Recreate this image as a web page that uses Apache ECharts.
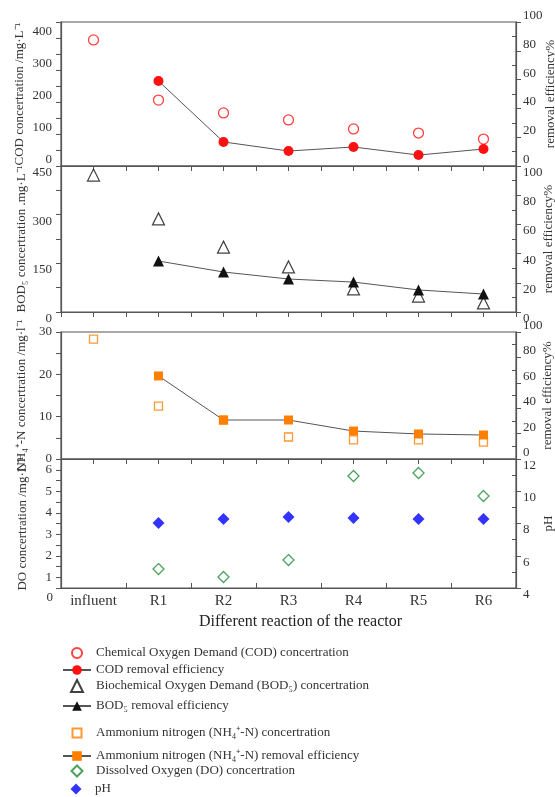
<!DOCTYPE html>
<html><head><meta charset="utf-8">
<script src="https://cdn.jsdelivr.net/npm/echarts@6/dist/echarts.min.js"></script>
<style>html,body{margin:0;padding:0;background:#fff}#c{width:555px;height:797px}</style>
</head><body><div id="c"></div>
<script>
// ---- data ----
const categories = ['influent', 'R1', 'R2', 'R3', 'R4', 'R5', 'R6'];
const codConcentration = [394, 206, 166, 144, 116, 103, 84];
const codRemoval = [null, 59, 16.7, 10.4, 13.2, 7.6, 11.8];
const bodConcentration = [422, 287, 200, 139, 71, 49, 28];
const bodRemoval = [null, 34.9, 27.4, 22.6, 20.5, 15.1, 12.3];
const nh4Concentration = [28.3, 12.5, 9.2, 5.2, 4.5, 4.5, 4.0];
const nh4Removal = [null, 65.4, 30.7, 30.7, 22, 19.7, 18.9];
const doConcentration = [null, 1.38, 1.01, 1.8, 5.71, 5.85, 4.78];
const phValues = [null, 8.03, 8.28, 8.4, 8.34, 8.28, 8.28];

// tick labels
const codTickLabels = [0, 100, 200, 300, 400];
const bodTickLabels = [0, 150, 300, 450];
const nh4TickLabels = [0, 10, 20, 30];
const doTickLabels = [1, 2, 3, 4, 5, 6];
const removalTickLabels = [0, 20, 40, 60, 80, 100];
const phTickLabels = [4, 6, 8, 10, 12];

const names = {
  cod: 'Chemical Oxygen Demand (COD) concertration',
  codR: 'COD removal efficiency',
  bod: 'Biochemical Oxygen Demand (BOD\u2085) concertration',
  bodR: 'BOD\u2085 removal efficiency',
  nh4: 'Ammonium nitrogen (NH\u2084\u207A-N) concertration',
  nh4R: 'Ammonium nitrogen (NH\u2084\u207A-N) removal efficiency',
  dox: 'Dissolved Oxygen (DO) concertration',
  ph: 'pH'
};

// ---- style ----
const FONT = "'Liberation Serif','Times New Roman',serif";
const AX = '#555';
const TXT = '#333';

const gridDefs = [
  { top: 22, height: 144 },
  { top: 166, height: 146 },
  { top: 332, height: 127 },
  { top: 459, height: 129 }
];
const grids = gridDefs.map(g => Object.assign({
  left: 61, right: 39, show: true, borderColor: AX, borderWidth: 1.2,
  backgroundColor: 'transparent', containLabel: false, outerBoundsMode: 'none'
}, g));

const xAxes = [];
for (let g = 0; g < 4; g++) {
  const last = g === 3;
  xAxes.push({
    type: 'category', gridIndex: g, position: 'bottom', data: categories, boundaryGap: true,
    axisLine: { lineStyle: { color: AX, width: 1.2 } },
    axisTick: { show: !last, alignWithLabel: true, length: 5, interval: 0, lineStyle: { color: AX } },
    axisLabel: { show: last, interval: 0, margin: 6, fontFamily: FONT, fontSize: 15, color: TXT },
    splitLine: { show: false },
    name: last ? 'Different reaction of the reactor' : '',
    nameLocation: 'middle', nameGap: 26, nameMoveOverlap: false,
    nameTextStyle: { fontFamily: FONT, fontSize: 16, color: '#222', padding: [0, 0, 0, 24] }
  });
  xAxes.push({
    type: 'category', gridIndex: g, position: 'bottom', data: categories, boundaryGap: true,
    axisLine: { show: false }, axisLabel: { show: false }, splitLine: { show: false },
    axisTick: { show: true, interval: 0, length: 5, inside: last, lineStyle: { color: AX } }
  });
}

function yAx(g, pos, min, max, interval, labels, name, nameGap, vAlign) {
  return {
    type: 'value', gridIndex: g, position: pos, min: min, max: max, interval: interval,
    axisLine: { show: true, lineStyle: { color: AX, width: 1.2 } },
    axisTick: { show: true, length: 5, lineStyle: { color: AX } },
    splitLine: { show: false },
    axisLabel: {
      fontFamily: FONT, fontSize: 13, color: TXT, margin: pos === 'left' ? 9 : 7,
      verticalAlign: vAlign,
      formatter: v => labels.indexOf(v) >= 0 ? String(v) : ''
    },
    name: name, nameLocation: 'middle', nameGap: nameGap, nameRotate: 90, nameMoveOverlap: false,
    nameTextStyle: { fontFamily: FONT, fontSize: 13, color: TXT }
  };
}
// right-hand minor ticks pointing into the plot
function minorAx(g, min, max, interval) {
  return {
    type: 'value', gridIndex: g, position: 'right', min: min, max: max, interval: interval,
    axisLine: { show: false }, axisLabel: { show: false }, splitLine: { show: false },
    axisTick: { show: false, inside: true },
    minorTick: { show: true, splitNumber: 2, length: 4, lineStyle: { color: AX } }
  };
}

const yAxes = [
  yAx(0, 'left', 0, 450, 50, codTickLabels, 'COD concertration /mg\u00B7L\u207B\u00B9', 35, 'bottom'),
  yAx(0, 'right', 0, 100, 20, removalTickLabels, 'removal efficiency%', 28, 'bottom'),
  yAx(1, 'left', 0, 450, 75, bodTickLabels, 'BOD\u2085 concertration .mg\u00B7L\u207B\u00B9', 33, 'top'),
  yAx(1, 'right', 0, 100, 20, removalTickLabels, 'removal efficiency%', 26, 'top'),
  yAx(2, 'left', 0, 30, 5, nh4TickLabels, 'NH\u2084\u207A-N concertration /mg\u00B7l\u207B\u00B9', 33, 'middle'),
  yAx(2, 'right', 0, 100, 20, removalTickLabels, 'removal efficiency%', 25, 'bottom'),
  yAx(3, 'left', 0.5, 6.5, 0.5, doTickLabels, 'DO concertration /mg\u00B7L\u207B\u00B9', 32, 'middle'),
  yAx(3, 'right', 4, 12, 2, phTickLabels, 'pH', 26, 'top'),
  minorAx(0, 0, 100, 20),
  minorAx(1, 0, 100, 20),
  minorAx(2, 0, 100, 20),
  minorAx(3, 4, 12, 2)
];

const RED = '#ff1010', BLACK = '#111', ORANGE = '#ff8000', GREEN = '#1e8c32', BLUE = '#0000ff';

function hollow(color, bw) {
  return { color: '#fff', borderColor: color, borderWidth: bw };
}

const series = [
  { name: names.cod, type: 'scatter', xAxisIndex: 0, yAxisIndex: 0, data: codConcentration,
    symbol: 'circle', symbolSize: 10, itemStyle: hollow(RED, 1.3) },
  { name: names.codR, type: 'line', xAxisIndex: 0, yAxisIndex: 1, data: codRemoval,
    symbol: 'circle', symbolSize: 10, itemStyle: { color: RED }, lineStyle: { color: '#555', width: 1 } },
  { name: names.bod, type: 'scatter', xAxisIndex: 2, yAxisIndex: 2, data: bodConcentration,
    symbol: 'triangle', symbolSize: 12, itemStyle: hollow(BLACK, 1.2) },
  { name: names.bodR, type: 'line', xAxisIndex: 2, yAxisIndex: 3, data: bodRemoval,
    symbol: 'triangle', symbolSize: 11, itemStyle: { color: BLACK }, lineStyle: { color: '#555', width: 1 } },
  { name: names.nh4, type: 'scatter', xAxisIndex: 4, yAxisIndex: 4, data: nh4Concentration,
    symbol: 'rect', symbolSize: 8, itemStyle: hollow(ORANGE, 1.3) },
  { name: names.nh4R, type: 'line', xAxisIndex: 4, yAxisIndex: 5, data: nh4Removal,
    symbol: 'rect', symbolSize: 9, itemStyle: { color: ORANGE }, lineStyle: { color: '#555', width: 1 } },
  { name: names.dox, type: 'scatter', xAxisIndex: 6, yAxisIndex: 6, data: doConcentration,
    symbol: 'diamond', symbolSize: 11, itemStyle: hollow(GREEN, 1.3) },
  { name: names.ph, type: 'scatter', xAxisIndex: 6, yAxisIndex: 7, data: phValues,
    symbol: 'diamond', symbolSize: 12, itemStyle: { color: BLUE } }
];

// legend rows: [name, centerY, isLine, iconSize]
const legendRows = [
  [names.cod, 653, false, 10],
  [names.codR, 670, true, 12],
  [names.bod, 686, false, 12],
  [names.bodR, 706, true, 12],
  [names.nh4, 733, false, 9],
  [names.nh4R, 756, true, 12],
  [names.dox, 771, false, 11],
  [names.ph, 789, false, 11]
];
const ICON_CX = 76, TEXT_X = 95;
const legends = legendRows.map(([n, cy, isLine, s]) => {
  const w = isLine ? 28 : s;
  const h = isLine ? 12 : s;
  const left = ICON_CX - w / 2;
  return {
    data: [n], left: left, top: cy - 8, orient: 'vertical', padding: 0,
    itemWidth: w, itemHeight: h, selectedMode: false,
    textStyle: { fontFamily: FONT, fontSize: 13, color: TXT, lineHeight: 16,
      padding: [0, 0, 0, Math.max(0, TEXT_X - (left + w + 5))] }
  };
});

const chart = echarts.init(document.getElementById('c'), null, { renderer: 'canvas' });
chart.setOption({
  animation: false,
  backgroundColor: '#fff',
  grid: grids,
  xAxis: xAxes,
  yAxis: yAxes,
  legend: legends,
  series: series,
  graphic: [{
    type: 'text', x: 53, y: 598,
    style: { text: '0', font: '13px ' + FONT, fill: TXT, align: 'right', verticalAlign: 'middle' }
  }]
});
</script></body></html>
